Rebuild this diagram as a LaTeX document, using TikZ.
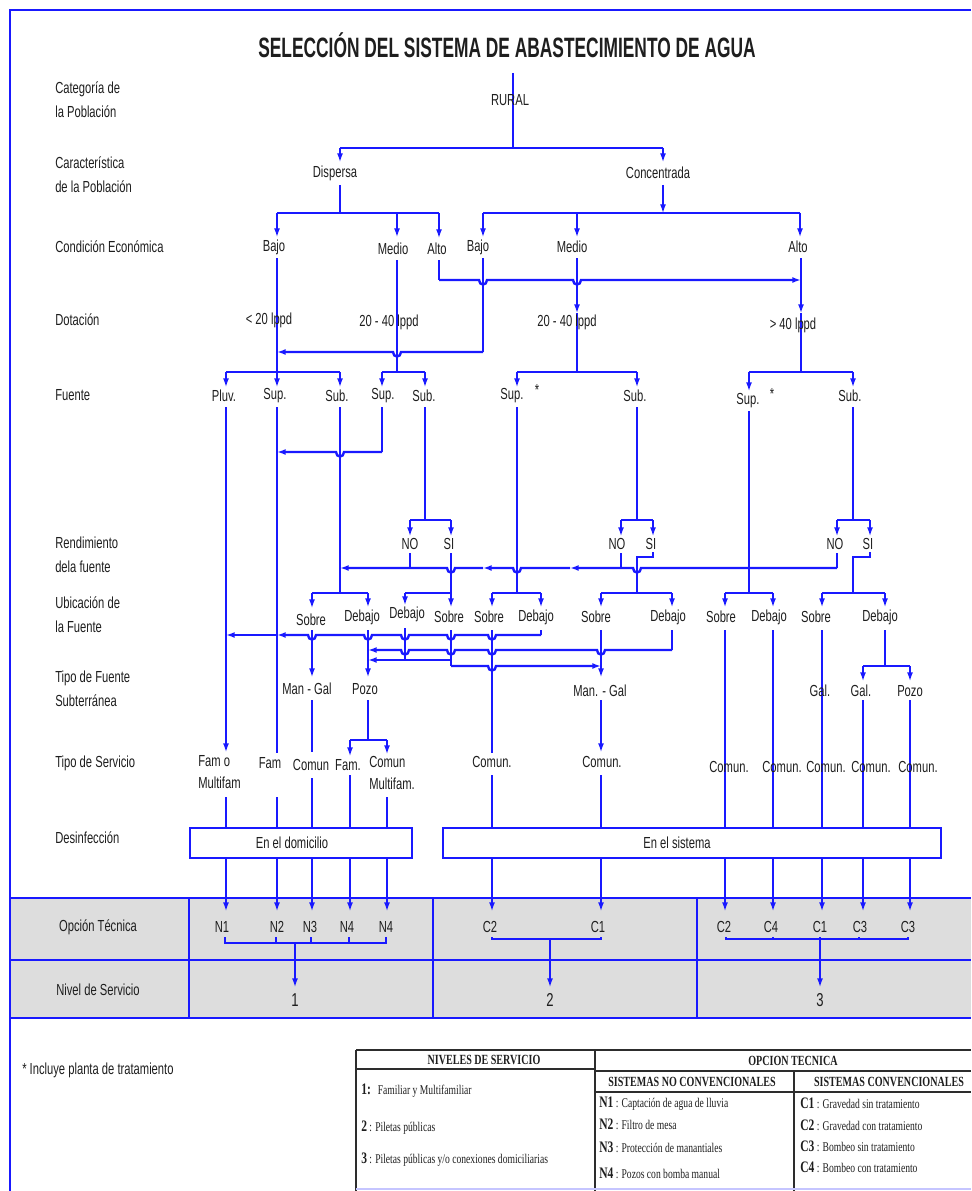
\documentclass[tikz,border=0pt]{standalone}
\usepackage{fontspec}
\setmainfont{Liberation Sans}
\newfontfamily\nar[FakeStretch=0.70]{Liberation Sans}
\newfontfamily\ttl[FakeStretch=0.62]{Liberation Sans}
\newfontfamily\ser[FakeStretch=0.72]{Liberation Serif}
\usetikzlibrary{arrows.meta}
\definecolor{bl}{RGB}{25,25,255}
\definecolor{txt}{RGB}{30,30,30}
\definecolor{gris}{RGB}{221,221,221}
\definecolor{lgd}{RGB}{45,45,45}
\tikzset{
  ln/.style={draw=bl,line width=1pt},
  br/.style={draw=bl,line width=1.8pt},
  tip/.style={-{Latex[length=6.5pt,width=4.5pt]}},
  t/.style={font=\nar\fontsize{12}{14}\selectfont,text=txt,inner sep=0pt},
  hd/.style={anchor=west,align=left,text=txt,inner sep=0pt,font=\nar\fontsize{12}{18}\selectfont},
  sv/.style={anchor=west,align=left,text=txt,inner sep=0pt,font=\nar\fontsize{12}{16.5}\selectfont},
  box/.style={draw=bl,line width=1.2pt,inner sep=0pt},
  lg/.style={draw=lgd,line width=1pt},
  lt/.style={font=\ser\fontsize{10}{11}\selectfont,text=txt,inner sep=0pt,anchor=west},
  lh/.style={font=\ser\bfseries\fontsize{10.5}{11}\selectfont,text=txt,inner sep=0pt},
  hpl/.style args={#1/#2}{insert path={-- (#1+4,#2) .. controls (#1+4,#2+6) and (#1-4,#2+6) .. (#1-4,#2)}},
  hpr/.style args={#1/#2}{insert path={-- (#1-4,#2) .. controls (#1-4,#2+6) and (#1+4,#2+6) .. (#1+4,#2)}},
}
\begin{document}
\begin{tikzpicture}[x=0.75pt,y=-0.75pt]
\useasboundingbox (0,0) rectangle (971,1191);
% table background
\fill[gris] (10,898) rectangle (971,1018);
% frame
\draw[draw=bl,line width=1.4pt] (10,1191) -- (10,10) -- (971,10);
\node[font=\ttl\bfseries\fontsize{21}{24}\selectfont,text=txt] (title) at (507,45) {SELECCIÓN DEL SISTEMA DE ABASTECIMIENTO DE AGUA};

% row headers
\node[hd] (h1) at (55,100) {Categoría de\\la Población};
\node[hd] (h2) at (55,175) {Característica\\de la Población};
\node[hd] (h3) at (55,247) {Condición Económica};
\node[hd] (h4) at (55,320) {Dotación};
\node[hd] (h5) at (55,395) {Fuente};
\node[hd] (h6) at (55,555) {Rendimiento\\dela fuente};
\node[hd] (h7) at (55,615) {Ubicación de\\la Fuente};
\node[hd] (h8) at (55,689) {Tipo de Fuente\\Subterránea};
\node[hd] (h9) at (55,763) {Tipo de Servicio};
\node[hd] (h10) at (55,838) {Desinfección};

% ---- top tree
\draw[ln] (513,73) -- (513,148);
\draw[br] (340,148) -- (663,148);
\draw[ln,tip] (340,148) -- (340,162);
\draw[ln,tip] (663,148) -- (663,162);
\draw[ln] (340,185) -- (340,213);
\draw[br] (277,213) -- (439,213);
\draw[ln,tip] (277,213) -- (277,237);
\draw[ln,tip] (397,213) -- (397,237);
\draw[ln,tip] (439,213) -- (439,238);
\draw[ln,tip] (663,185) -- (663,213);
\draw[br] (483,213) -- (800,213);
\draw[ln,tip] (483,213) -- (483,237);
\draw[ln,tip] (577,213) -- (577,237);
\draw[ln,tip] (800,213) -- (800,237);

% dotacion links
\draw[ln] (277,258) -- (277,372);
\draw[ln] (397,260) -- (397,372);
\draw[ln] (483,258) -- (483,352);
\draw[br,tip] (483,352) [hpl=397/352] -- (277,352);
\draw[ln] (439,260) -- (439,280);
\draw[br,tip] (439,280) [hpr=483/280] [hpr=577/280] -- (801,280);
\draw[ln,tip] (577,258) -- (577,313);
\draw[ln] (577,313) -- (577,372);
\draw[ln,tip] (801,258) -- (801,313);
\draw[ln] (801,313) -- (801,372);

% fuente bars
\draw[br] (226,372) -- (340,372);
\draw[ln,tip] (226,372) -- (226,387);
\draw[ln,tip] (277,372) -- (277,387);
\draw[ln,tip] (340,372) -- (340,387);
\draw[br] (382,372) -- (425,372);
\draw[ln,tip] (382,372) -- (382,387);
\draw[ln,tip] (425,372) -- (425,387);
\draw[br] (517,372) -- (637,372);
\draw[ln,tip] (517,372) -- (517,387);
\draw[ln,tip] (637,372) -- (637,387);
\draw[br] (749,372) -- (853,372);
\draw[ln,tip] (749,372) -- (749,391);
\draw[ln,tip] (853,372) -- (853,387);

% below fuente
\draw[ln,tip] (226,407) -- (226,752);
\draw[ln] (277,407) -- (277,753);
\draw[ln] (340,407) -- (340,593);
\draw[ln] (382,407) -- (382,452);
\draw[br,tip] (382,452) [hpl=340/452] -- (277,452);
\draw[ln] (425,407) -- (425,520);
\draw[br] (410,520) -- (451,520);
\draw[ln,tip] (410,520) -- (410,536);
\draw[ln,tip] (451,520) -- (451,536);
\draw[ln] (410,553) -- (410,568);
\draw[ln] (451,553) -- (451,593);
\draw[ln] (517,407) -- (517,593);
\draw[ln] (637,407) -- (637,520);
\draw[br] (621,520) -- (653,520);
\draw[ln,tip] (621,520) -- (621,536);
\draw[ln,tip] (653,520) -- (653,536);
\draw[ln] (621,553) -- (621,568);
\draw[ln] (653,552) -- (653,557) -- (637,557) -- (637,593);
\draw[ln] (749,411) -- (749,593);
\draw[ln] (853,407) -- (853,520);
\draw[br] (837,520) -- (870,520);
\draw[ln,tip] (837,520) -- (837,536);
\draw[ln,tip] (870,520) -- (870,536);
\draw[ln] (837,553) -- (837,568);
\draw[ln] (870,552) -- (870,557) -- (853,557) -- (853,593);
% rendimiento NO line
\draw[br,tip] (837,568) [hpl=637/568] -- (570,568);
\draw[br,tip] (570,568) [hpl=517/568] -- (483,568);
\draw[br,tip] (483,568) [hpl=451/568] -- (340,568);

% ubicacion bars
\draw[br] (312,593) -- (368,593);
\draw[ln,tip] (312,593) -- (312,608);
\draw[ln,tip] (368,593) -- (368,607);
\draw[br] (405,593) -- (451,593);
\draw[ln,tip] (405,593) -- (405,605);
\draw[ln,tip] (451,593) -- (451,607);
\draw[br] (492,593) -- (541,593);
\draw[ln,tip] (492,593) -- (492,607);
\draw[ln,tip] (541,593) -- (541,607);
\draw[br] (601,593) -- (672,593);
\draw[ln,tip] (601,593) -- (601,607);
\draw[ln,tip] (672,593) -- (672,607);
\draw[br] (725,593) -- (773,593);
\draw[ln,tip] (725,593) -- (725,607);
\draw[ln,tip] (773,593) -- (773,607);
\draw[br] (822,593) -- (885,593);
\draw[ln,tip] (822,593) -- (822,607);
\draw[ln,tip] (885,593) -- (885,607);

% below ubicacion
\draw[ln,tip] (312,630) -- (312,677);
\draw[ln,tip] (368,630) -- (368,677);
\draw[ln] (405,628) -- (405,660);
\draw[ln] (451,630) -- (451,666);
\draw[ln] (492,630) -- (492,753);
\draw[ln] (541,630) -- (541,635);
\draw[br,tip] (541,635) [hpl=492/635] [hpl=451/635] [hpl=405/635] [hpl=368/635] [hpl=312/635] -- (277,635);
\draw[br,tip] (277,635) -- (226,635);
\draw[ln] (672,630) -- (672,650);
\draw[br,tip] (672,650) [hpl=601/650] [hpl=492/650] [hpl=451/650] [hpl=405/650] -- (368,650);
\draw[br,tip] (451,660) -- (368,660);
\draw[br,tip] (451,666) [hpr=492/666] -- (601,666);
\draw[ln,tip] (601,630) -- (601,677);
\draw[ln] (725,630) -- (725,828);
\draw[ln] (773,630) -- (773,828);
\draw[ln] (822,630) -- (822,828);
\draw[ln] (885,630) -- (885,666);
\draw[br] (863,666) -- (910,666);
\draw[ln,tip] (863,666) -- (863,681);
\draw[ln,tip] (910,666) -- (910,681);

% below tipo fuente
\draw[ln] (312,700) -- (312,752);
\draw[ln] (312,778) -- (312,828);
\draw[ln] (368,700) -- (368,740);
\draw[br] (350,740) -- (387,740);
\draw[ln,tip] (350,740) -- (350,756);
\draw[ln,tip] (387,740) -- (387,754);
\draw[ln,tip] (601,700) -- (601,752);
\draw[ln] (601,775) -- (601,828);
\draw[ln] (492,775) -- (492,828);
\draw[ln] (863,700) -- (863,828);
\draw[ln] (910,700) -- (910,828);
\draw[ln] (226,797) -- (226,828);
\draw[ln] (277,797) -- (277,828);
\draw[ln] (350,775) -- (350,828);
\draw[ln] (387,797) -- (387,828);

% desinfeccion boxes
\node[box,minimum width=166.5pt,minimum height=22.5pt] (domb) at (301,843) {};
\node[t] (dom) at (292,843) {En el domicilio};
\node[box,minimum width=373.5pt,minimum height=22.5pt] (sisb) at (692,843) {};
\node[t] (sis) at (677,843) {En el sistema};

% arrows to opcion tecnica
\foreach \xx in {226,277,312,350,387,492,601,725,773,822,863,910}
  \draw[ln,tip] (\xx,858) -- (\xx,911);

% table lines
\draw[draw=bl,line width=1.6pt] (10,898) -- (971,898);
\draw[draw=bl,line width=1.6pt] (10,960) -- (971,960);
\draw[draw=bl,line width=1.6pt] (10,1018) -- (971,1018);
\draw[ln] (189,898) -- (189,1018);
\draw[ln] (433,898) -- (433,1018);
\draw[ln] (697,898) -- (697,1018);

% brackets
\draw[ln] (225,937) -- (225,943) -- (386,943) -- (386,937);
\draw[ln] (276,937) -- (276,943);
\draw[ln] (311,937) -- (311,943);
\draw[ln] (349,937) -- (349,943);
\draw[ln,tip] (295,943) -- (295,987);
\draw[ln] (492,937) -- (492,939) -- (601,939) -- (601,937);
\draw[ln,tip] (550,939) -- (550,987);
\draw[ln] (726,937) -- (726,939) -- (908,939) -- (908,937);
\draw[ln] (773,937) -- (773,939);
\draw[ln] (859,937) -- (859,939);
\draw[ln,tip] (820,937) -- (820,987);

% ---- labels
\node[t] (rural) at (510,100) {RURAL};
\node[t] (disp) at (335,173) {Dispersa};
\node[t] (conc) at (658,173) {Concentrada};
\node[t] (bajoD) at (274,247) {Bajo};
\node[t] (medD) at (393,249) {Medio};
\node[t] (altD) at (437,249) {Alto};
\node[t] (bajoC) at (478,247) {Bajo};
\node[t] (medC) at (572,247) {Medio};
\node[t] (altC) at (798,247) {Alto};
\node[t] (d1) at (269,320) {< 20 lppd};
\node[t] (d2) at (389,322) {20 - 40 lppd};
\node[t] (d3) at (567,322) {20 - 40 lppd};
\node[t] (d4) at (793,325) {> 40 lppd};
\node[t] (pluv) at (224,396) {Pluv.};
\node[t] (sup1) at (275,396) {Sup.};
\node[t] (sub1) at (337,396) {Sub.};
\node[t] (sup2) at (383,396) {Sup.};
\node[t] (sub2) at (424,396) {Sub.};
\node[t] (sup3) at (512,396) {Sup.};
\node[t] (ast1) at (537,390) {*};
\node[t] (sub3) at (635,396) {Sub.};
\node[t] (sup4) at (748,401) {Sup.};
\node[t] (ast2) at (772,394) {*};
\node[t] (sub4) at (850,396) {Sub.};
\node[t] (no1) at (410,544) {NO};
\node[t] (si1) at (449,544) {SI};
\node[t] (no2) at (617,544) {NO};
\node[t] (si2) at (651,544) {SI};
\node[t] (no3) at (835,544) {NO};
\node[t] (si3) at (868,544) {SI};
\node[t] (u1) at (311,620) {Sobre};
\node[t] (u2) at (362,617) {Debajo};
\node[t] (u3) at (407,614) {Debajo};
\node[t] (u4) at (449,617) {Sobre};
\node[t] (u5) at (489,617) {Sobre};
\node[t] (u6) at (536,617) {Debajo};
\node[t] (u7) at (596,617) {Sobre};
\node[t] (u8) at (668,617) {Debajo};
\node[t] (u9) at (721,617) {Sobre};
\node[t] (u10) at (769,617) {Debajo};
\node[t] (u11) at (816,617) {Sobre};
\node[t] (u12) at (880,617) {Debajo};
\node[t] (f1) at (307,689) {Man - Gal};
\node[t] (f2) at (365,689) {Pozo};
\node[t] (f3) at (600,691) {Man. - Gal};
\node[t] (f4) at (820,691) {Gal.};
\node[t] (f5) at (861,691) {Gal.};
\node[t] (f6) at (910,691) {Pozo};
\node[sv] (s1) at (198,772) {Fam o\\Multifam};
\node[t] (s2) at (270,763) {Fam};
\node[t] (s3) at (311,765) {Comun};
\node[t] (s4) at (348,765) {Fam.};
\node[sv] (s5) at (369,773) {Comun\\Multifam.};
\node[t] (s6) at (492,762) {Comun.};
\node[t] (s7) at (602,762) {Comun.};
\node[t] (s8) at (729,767) {Comun.};
\node[t] (s9) at (782,767) {Comun.};
\node[t] (s10) at (826,767) {Comun.};
\node[t] (s11) at (871,767) {Comun.};
\node[t] (s12) at (918,767) {Comun.};
\node[t] (op) at (98,927) {Opción Técnica};
\node[t] (nv) at (98,990) {Nivel de Servicio};
\node[t] (o1) at (222,927) {N1};
\node[t] (o2) at (277,927) {N2};
\node[t] (o3) at (310,927) {N3};
\node[t] (o4) at (347,927) {N4};
\node[t] (o5) at (386,927) {N4};
\node[t] (o6) at (490,927) {C2};
\node[t] (o7) at (598,927) {C1};
\node[t] (o8) at (724,927) {C2};
\node[t] (o9) at (771,927) {C4};
\node[t] (o10) at (820,927) {C1};
\node[t] (o11) at (860,927) {C3};
\node[t] (o12) at (908,927) {C3};
\node[t,font=\nar\fontsize{14}{16}\selectfont] (n1) at (295,1000) {1};
\node[t,font=\nar\fontsize{14}{16}\selectfont] (n2) at (550,1000) {2};
\node[t,font=\nar\fontsize{14}{16}\selectfont] (n3) at (820,1000) {3};

% ---- legend
\node[t,anchor=west] (nota) at (22,1070) {* Incluye planta de tratamiento};
\draw[lg,line width=1.6pt] (356,1050) -- (971,1050);
\draw[lg] (356,1050) -- (356,1191);
\draw[lg] (356,1069) -- (595,1069);
\draw[lg] (595,1050) -- (595,1191);
\draw[lg] (595,1071) -- (971,1071);
\draw[lg] (794,1071) -- (794,1191);
\draw[lg] (595,1092) -- (971,1092);
\draw[draw=bl!25,line width=1pt] (356,1189) -- (971,1189);
\node[lh] (lh1) at (484,1060) {NIVELES DE SERVICIO};
\node[lh] (lh2) at (793,1061) {OPCION TECNICA};
\node[lh] (lh3) at (692,1082) {SISTEMAS NO CONVENCIONALES};
\node[lh] (lh4) at (889,1082) {SISTEMAS CONVENCIONALES};
\node[lt] (l1) at (361,1091) {\textbf{\fontsize{12}{13}\selectfont 1:}\; Familiar y Multifamiliar};
\node[lt] (l2) at (361,1128) {\textbf{\fontsize{12}{13}\selectfont 2} : Piletas públicas};
\node[lt] (l3) at (361,1160) {\textbf{\fontsize{12}{13}\selectfont 3} : Piletas públicas y/o conexiones domiciliarias};
\node[lt] (ln1) at (599,1104) {\textbf{\fontsize{12}{13}\selectfont N1} : Captación de agua de lluvia};
\node[lt] (ln2) at (599,1124) {\textbf{\fontsize{12}{13}\selectfont N2} : Filtro de mesa};
\node[lt] (ln3) at (599,1147) {\textbf{\fontsize{12}{13}\selectfont N3} : Protección de manantiales};
\node[lt] (ln4) at (599,1173) {\textbf{\fontsize{12}{13}\selectfont N4} : Pozos con bomba manual};
\node[lt] (lc1) at (800,1103) {\textbf{\fontsize{12}{13}\selectfont C1} : Gravedad sin tratamiento};
\node[lt] (lc2) at (800,1125) {\textbf{\fontsize{12}{13}\selectfont C2} : Gravedad con tratamiento};
\node[lt] (lc3) at (800,1146) {\textbf{\fontsize{12}{13}\selectfont C3} : Bombeo sin tratamiento};
\node[lt] (lc4) at (800,1167) {\textbf{\fontsize{12}{13}\selectfont C4} : Bombeo con tratamiento};
\end{tikzpicture}
\end{document}
